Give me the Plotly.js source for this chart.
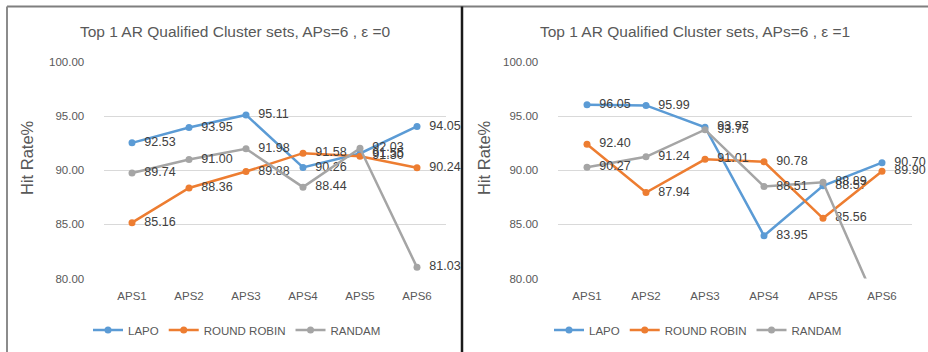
<!DOCTYPE html>
<html>
<head>
<meta charset="utf-8">
<script src="https://cdn.plot.ly/plotly-3.0.1.min.js"></script>
<style>html,body{margin:0;padding:0;background:#fff;}#chart{width:928px;height:352px;}</style>
</head>
<body>
<div id="chart"></div>
<script>
// ---- data ----
const categories = ["APS1", "APS2", "APS3", "APS4", "APS5", "APS6"];
const seriesNames = ["LAPO", "ROUND ROBIN", "RANDAM"];

// ε = 0
const lapoEps0 = [92.53, 93.95, 95.11, 90.26, 91.55, 94.05];
const roundRobinEps0 = [85.16, 88.36, 89.88, 91.58, 91.30, 90.24];
const randomEps0 = [89.74, 91.00, 91.98, 88.44, 92.03, 81.03];

// ε = 1
const lapoEps1 = [96.05, 95.99, 93.97, 83.95, 88.57, 90.70];
const roundRobinEps1 = [92.40, 87.94, 91.01, 90.78, 85.56, 89.90];
const randomEps1 = [90.27, 91.24, 93.75, 88.51, 88.89, 76.50];

const titles = ["Top 1 AR Qualified Cluster sets, APs=6 , ε =0", "Top 1 AR Qualified Cluster sets, APs=6 , ε =1"];
const yTitle = "Hit Rate%";
const yTicks = [80, 85, 90, 95, 100];

// ---- styling ----
const colors = ["#5B9BD5", "#ED7D31", "#A5A5A5"];
const W = 928, H = 352;
const px = x => x / W;
const py = y => 1 - y / H;
const FONT = "Liberation Sans, Arial, sans-serif";

function mk(y, i, xa, ya, leg, clip) {
  return {
    x: categories, y: y, name: seriesNames[i],
    xaxis: xa, yaxis: ya, legend: leg,
    type: "scatter", mode: "lines+markers+text",
    line: {color: colors[i], width: 2.5},
    marker: {color: colors[i], size: 7},
    text: y.map(v => "\u00a0\u00a0" + v.toFixed(2)),
    textposition: "middle right",
    textfont: {family: FONT, size: 12.5, color: "#404040"},
    cliponaxis: clip,
    hoverinfo: "skip"
  };
}

const data = [
  mk(lapoEps0, 0, "x", "y", "legend", false),
  mk(roundRobinEps0, 1, "x", "y", "legend", false),
  mk(randomEps0, 2, "x", "y", "legend", false),
  mk(lapoEps1, 0, "x2", "y2", "legend2", false),
  mk(roundRobinEps1, 1, "x2", "y2", "legend2", false),
  mk(randomEps1, 2, "x2", "y2", "legend2", true)
];

const yDomain = [py(278.5), py(62)];
function xax(domain, anchor) {
  return {
    domain: domain, anchor: anchor, type: "category",
    range: [-0.5, 5.5], showgrid: false, zeroline: false, showline: false,
    ticks: "outside", ticklen: 7, tickcolor: "rgba(0,0,0,0)",
    tickfont: {family: FONT, size: 11.5, color: "#595959"},
    fixedrange: true
  };
}
function yax(anchor) {
  return {
    domain: yDomain, anchor: anchor, range: [80, 100],
    tickvals: yTicks, ticktext: yTicks.map(v => v.toFixed(2)),
    showgrid: true, gridcolor: "#D9D9D9", gridwidth: 1,
    zeroline: false, showline: false,
    ticks: "outside", ticklen: 16, tickcolor: "rgba(0,0,0,0)",
    tickfont: {family: FONT, size: 11.5, color: "#595959"},
    fixedrange: true
  };
}

const legendBase = {
  orientation: "h", yanchor: "middle", xanchor: "center",
  y: py(330), font: {family: FONT, size: 11.5, color: "#595959"},
  bgcolor: "rgba(0,0,0,0)", itemclick: false, itemdoubleclick: false
};

const layout = {
  width: W, height: H,
  margin: {l: 0, r: 0, t: 0, b: 0},
  paper_bgcolor: "#ffffff", plot_bgcolor: "#ffffff",
  showlegend: true,
  xaxis: xax([px(103.5), px(445.5)], "y"),
  yaxis: yax("x"),
  xaxis2: xax([px(557.5), px(911.5)], "y2"),
  yaxis2: yax("x2"),
  legend: Object.assign({}, legendBase, {x: px(237)}),
  legend2: Object.assign({}, legendBase, {x: px(698)}),
  annotations: [
    {text: titles[0], xref: "paper", yref: "paper", x: px(235), y: py(31), xanchor: "center", yanchor: "middle", showarrow: false,
     font: {family: FONT, size: 15.5, color: "#595959"}},
    {text: titles[1], xref: "paper", yref: "paper", x: px(695), y: py(31), xanchor: "center", yanchor: "middle", showarrow: false,
     font: {family: FONT, size: 15.5, color: "#595959"}},
    {text: yTitle, xref: "paper", yref: "paper", x: px(27), y: py(158), xanchor: "center", yanchor: "middle", textangle: -90, showarrow: false,
     font: {family: FONT, size: 16.5, color: "#595959"}},
    {text: yTitle, xref: "paper", yref: "paper", x: px(484), y: py(158), xanchor: "center", yanchor: "middle", textangle: -90, showarrow: false,
     font: {family: FONT, size: 16.5, color: "#595959"}}
  ],
  shapes: [
    {type: "line", xref: "paper", yref: "paper", x0: px(7), x1: 1, y0: py(6.5), y1: py(6.5), line: {color: "#7f7f7f", width: 2}},
    {type: "line", xref: "paper", yref: "paper", x0: px(7), x1: px(7), y0: py(6.5), y1: 0, line: {color: "#8c8c8c", width: 2}},
    {type: "line", xref: "paper", yref: "paper", x0: px(462), x1: px(462), y0: py(6.5), y1: 0, line: {color: "#1a1a1a", width: 2.5}}
  ]
};

Plotly.newPlot("chart", data, layout, {staticPlot: true, displayModeBar: false});
</script>
</body>
</html>
